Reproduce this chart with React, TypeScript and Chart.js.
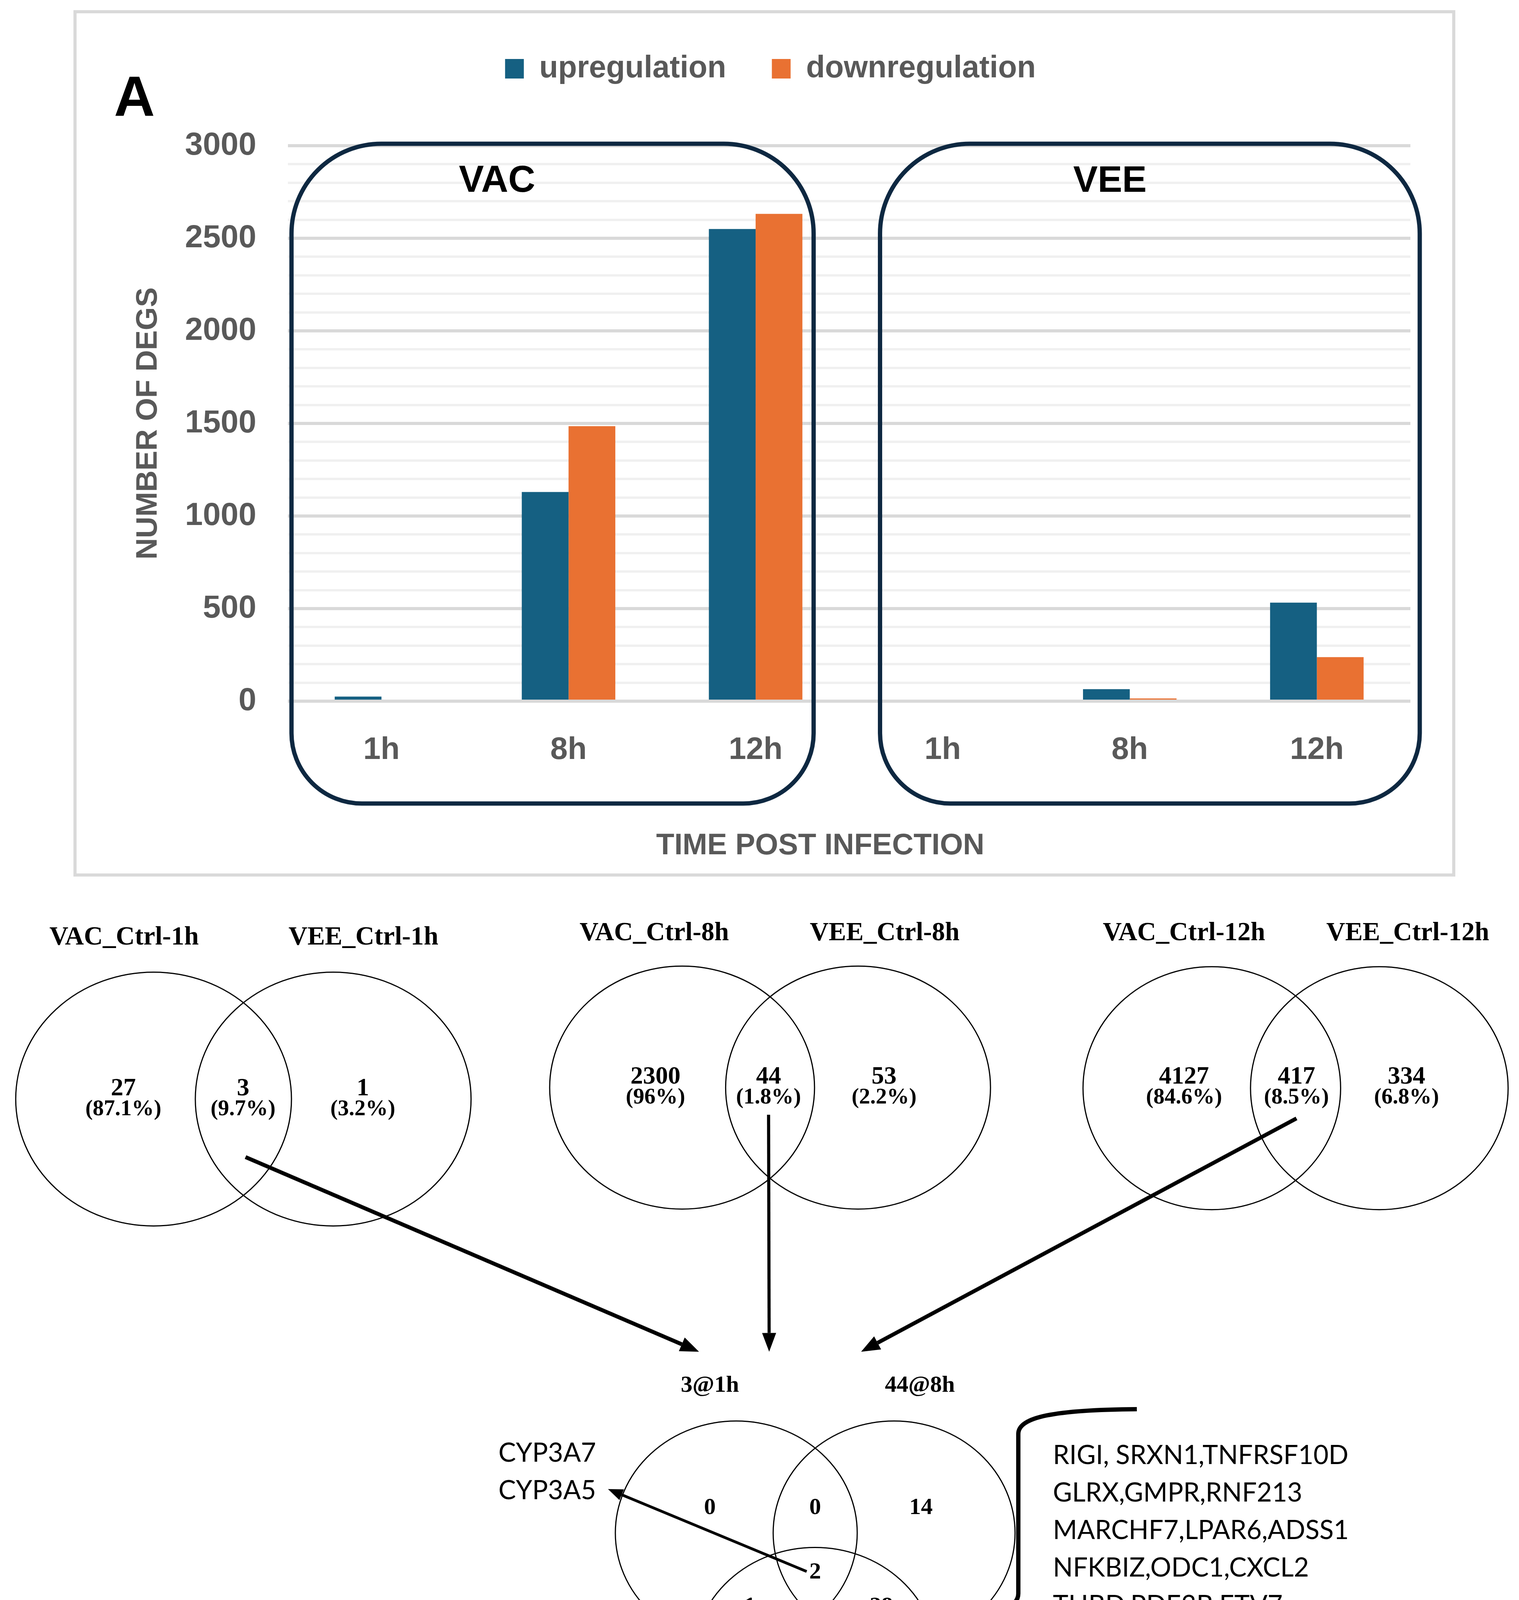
import React, { useEffect, useRef } from 'react';
import { Chart, registerables } from 'chart.js';

Chart.register(...registerables);

// ---------------- Panel A data ----------------
const groups = ['VAC', 'VEE'];
const timePoints = ['1h', '8h', '12h'];
const categories = groups.flatMap(() => timePoints);
const upregulation = [25, 1130, 2550, 0, 65, 532];
const downregulation = [0, 1485, 2632, 0, 15, 238];
const seriesNames = ['upregulation', 'downregulation'];
const seriesColors = ['#156082', '#E97132'];
const yMax = 3000;
const yMajorStep = 500;
const yMinorStep = 100;

// ---------------- Panel B data ----------------
const vennTitles = [
  ['VAC_Ctrl-1h', 'VEE_Ctrl-1h'],
  ['VAC_Ctrl-8h', 'VEE_Ctrl-8h'],
  ['VAC_Ctrl-12h', 'VEE_Ctrl-12h'],
];
const vennCounts = [
  [27, 3, 1],
  [2300, 44, 53],
  [4127, 417, 334],
];
const vennPercents = [
  ['87.1', '9.7', '3.2'],
  ['96', '1.8', '2.2'],
  ['84.6', '8.5', '6.8'],
];
const overlapSetLabels = ['3@1h', '44@8h', '417@12h'];
// regions: only 1h, 1h∩8h, only 8h, all three, 1h∩12h, 8h∩12h, only 12h
const overlapRegionCounts = [0, 0, 14, 2, 1, 28, 386];
const genesAllThree = ['CYP3A7', 'CYP3A5'];
const genes1h12h = ['AKR1B10'];
const genes8h12h = [
  'RIGI, SRXN1,TNFRSF10D',
  'GLRX,GMPR,RNF213',
  'MARCHF7,LPAR6,ADSS1',
  'NFKBIZ,ODC1,CXCL2',
  'THBD,PDE3B,ETV7',
  'ARRDC3,MAP3K8,NMT2',
  'DUSP1,MSI2,PTBP2',
  'KCNAB2,CXCL1,LRRC37A3',
  'MMP7,CXCL3,ANGPTL4',
  'HTR7',
];
const panelBLabel = '(B)';

const SANS = '"Liberation Sans", Arial, sans-serif';
const SERIF = '"Liberation Serif", "Times New Roman", serif';
const GENE_FONT = 'Lato, "Open Sans", sans-serif';
const GREY = '#595959';

// ---------------- Panel A plugin (frame, group boxes, letter) ----------------
const panelAPlugin = {
  id: 'panelA',
  afterDatasetsDraw(chart: any) {
    const { ctx, scales, chartArea } = chart;
    const x = scales.x;
    const y = scales.y;
    const w = x.getPixelForValue(1) - x.getPixelForValue(0);
    const top = y.getPixelForValue(yMax) - 5;
    const bottom = chartArea.bottom + 262;
    const boxes = [
      { label: groups[0], l: x.getPixelForValue(0) - 0.481 * w, r: x.getPixelForValue(2) + 0.31 * w, lx: x.getPixelForValue(0) + 0.618 * w, size: 96 },
      { label: groups[1], l: x.getPixelForValue(3) - 0.335 * w, r: x.getPixelForValue(5) + 0.55 * w, lx: x.getPixelForValue(3) + 0.894 * w, size: 94 },
    ];
    ctx.save();
    ctx.strokeStyle = '#0E2841';
    ctx.lineWidth = 11;
    for (const b of boxes) {
      ctx.beginPath();
      (ctx as any).roundRect(b.l, top, b.r - b.l, bottom - top, [230, 230, 180, 180]);
      ctx.stroke();
      ctx.fillStyle = '#000';
      ctx.font = `bold ${b.size}px ${SANS}`;
      ctx.textAlign = 'center';
      ctx.textBaseline = 'middle';
      ctx.fillText(b.label, b.lx, top + 97);
    }
    ctx.restore();
  },
  afterDraw(chart: any) {
    const { ctx } = chart;
    ctx.save();
    ctx.strokeStyle = '#d9d9d9';
    ctx.lineWidth = 8;
    ctx.strokeRect(192, 30, 3721 - 192, 2240 - 30);
    ctx.fillStyle = '#000';
    ctx.font = `bold 145px ${SANS}`;
    ctx.textAlign = 'center';
    ctx.textBaseline = 'middle';
    ctx.fillText('A', 344, 256);
    ctx.restore();
  },
};

// ---------------- Panel B plugin (Venn diagrams) ----------------
function drawArrow(ctx: CanvasRenderingContext2D, x1: number, y1: number, x2: number, y2: number, lw: number, hl: number, hw: number) {
  const a = Math.atan2(y2 - y1, x2 - x1);
  const bx = x2 - hl * Math.cos(a);
  const by = y2 - hl * Math.sin(a);
  ctx.lineWidth = lw;
  ctx.beginPath();
  ctx.moveTo(x1, y1);
  ctx.lineTo(bx, by);
  ctx.stroke();
  ctx.beginPath();
  ctx.moveTo(x2, y2);
  ctx.lineTo(bx + hw * Math.sin(a), by - hw * Math.cos(a));
  ctx.lineTo(bx - hw * Math.sin(a), by + hw * Math.cos(a));
  ctx.closePath();
  ctx.fill();
}

const vennPlugin = {
  id: 'venn',
  afterDraw(chart: any) {
    const { ctx, scales } = chart;
    const X = (v: number) => scales.x.getPixelForValue(v);
    const Y = (v: number) => scales.y.getPixelForValue(v);
    const RX = (r: number) => X(r) - X(0);
    const RY = (r: number) => Y(733.35 + r) - Y(733.35);
    ctx.save();
    ctx.strokeStyle = '#000';
    ctx.fillStyle = '#000';
    ctx.textAlign = 'center';
    ctx.textBaseline = 'middle';

    const ellipse = (cx: number, cy: number, rx: number, ry: number) => {
      ctx.lineWidth = 3;
      ctx.beginPath();
      ctx.ellipse(X(cx), Y(cy), RX(rx), RY(ry), 0, 0, Math.PI * 2);
      ctx.stroke();
    };
    const text = (s: string, x: number, y: number, font: string, align: CanvasTextAlign = 'center') => {
      ctx.font = font;
      ctx.textAlign = align;
      ctx.fillText(s, X(x), Y(y));
    };

    // two-set Venn diagrams
    const layouts = [
      { c: [127, 275.5], cy: 909, rx: 114, ry: 105, tx: [102.6, 300.5], ty: 775.5, nx: [102, 201, 300], ny: 900.5, py: 917.5 },
      { c: [564, 709.5], cy: 899.5, rx: 109.5, ry: 100.5, tx: [541, 731.5], ty: 772, nx: [542, 635.5, 731], ny: 891, py: 908 },
      { c: [1002, 1140.5], cy: 900, rx: 106.5, ry: 100.5, tx: [979, 1164], ty: 772, nx: [979, 1072, 1163], ny: 891, py: 908 },
    ];
    layouts.forEach((L, i) => {
      ellipse(L.c[0], L.cy, L.rx, L.ry);
      ellipse(L.c[1], L.cy, L.rx, L.ry);
      vennTitles[i].forEach((t, j) => text(t, L.tx[j], L.ty, `bold 67px ${SERIF}`));
      vennCounts[i].forEach((n, j) => {
        text(String(n), L.nx[j], L.ny, `bold 64px ${SERIF}`);
        text(`(${vennPercents[i][j]}%)`, L.nx[j], L.py, `bold 57px ${SERIF}`);
      });
    });

    // arrows to the three-set diagram
    drawArrow(ctx, X(203), Y(957), X(578), Y(1118), 10, 48, 19);
    drawArrow(ctx, X(635.5), Y(922), X(636), Y(1118), 8, 48, 18);
    drawArrow(ctx, X(1072), Y(925), X(712), Y(1118), 10, 48, 19);

    // three-set diagram
    ellipse(608.8, 1267.9, 100, 92.6);
    ellipse(739.3, 1267.9, 100, 92.6);
    ellipse(673.9, 1372.5, 100.5, 92.6);
    const setPos = [[587, 1146], [760.6, 1146], [674, 1494]];
    overlapSetLabels.forEach((s, i) => text(s, setPos[i][0], setPos[i][1], `bold 60px ${SERIF}`));
    const regionPos = [[587, 1247.4], [674, 1247.4], [761.5, 1247.4], [674, 1300.6], [620, 1329.2], [728.7, 1329.2], [674, 1390.7]];
    overlapRegionCounts.forEach((n, i) => text(String(n), regionPos[i][0], regionPos[i][1], `bold 60px ${SERIF}`));

    // gene annotations
    ctx.font = `100px ${GENE_FONT}`;
    const longest = genes8h12h.reduce((a, b) => (ctx.measureText(b).width > ctx.measureText(a).width ? b : a));
    const geneSize = (100 * 822) / ctx.measureText(longest).width;
    const geneFont = `${geneSize.toFixed(1)}px ${GENE_FONT}`;
    text(genesAllThree[0], 452.5, 1202, geneFont);
    text(genesAllThree[1], 452.5, 1233, geneFont);
    text(genes1h12h[0], 446, 1386, geneFont);
    genes8h12h.forEach((g, i) => text(g, 870.6, 1204 + 31 * i, geneFont, 'left'));

    drawArrow(ctx, X(667), Y(1299.8), X(502.7), Y(1231.6), 7, 38, 15);
    drawArrow(ctx, X(608), Y(1338), X(504), Y(1372), 7, 38, 15);

    // bracket
    ctx.lineWidth = 11;
    ctx.beginPath();
    ctx.moveTo(X(940), Y(1165.5));
    ctx.bezierCurveTo(X(872), Y(1166), X(842), Y(1172), X(842), Y(1186));
    ctx.lineTo(X(842), Y(1318));
    ctx.bezierCurveTo(X(842), Y(1331), X(822), Y(1334), X(800), Y(1335));
    ctx.lineTo(X(748), Y(1337));
    ctx.lineTo(X(800), Y(1339));
    ctx.bezierCurveTo(X(824), Y(1340), X(842), Y(1344), X(842), Y(1357));
    ctx.lineTo(X(842), Y(1492));
    ctx.bezierCurveTo(X(842), Y(1505), X(872), Y(1509.5), X(940), Y(1510));
    ctx.stroke();

    text(panelBLabel, 630.5, 1550, `bold 66px ${SERIF}`);
    ctx.restore();
  },
};

export default function App() {
  const refA = useRef<HTMLCanvasElement>(null);
  const refB = useRef<HTMLCanvasElement>(null);

  useEffect(() => {
    document.body.style.margin = '0';
    const chartA = new Chart(refA.current as HTMLCanvasElement, {
      type: 'bar',
      data: {
        labels: categories,
        datasets: [
          { label: seriesNames[0], data: upregulation, backgroundColor: seriesColors[0], borderWidth: 0, categoryPercentage: 0.5, barPercentage: 1 },
          { label: seriesNames[1], data: downregulation, backgroundColor: seriesColors[1], borderWidth: 0, categoryPercentage: 0.5, barPercentage: 1 },
        ],
      },
      options: {
        animation: false,
        responsive: false,
        devicePixelRatio: 1,
        events: [],
        layout: { padding: { left: 334, right: 278, top: 19.5, bottom: 58 } },
        plugins: {
          tooltip: { enabled: false },
          legend: {
            position: 'top',
            labels: {
              boxWidth: 48,
              boxHeight: 50,
              padding: 117,
              color: GREY,
              font: { family: SANS, size: 79, weight: 'bold' },
            },
          },
          subtitle: {
            display: true,
            text: '',
            weight: 500,
            padding: { top: 146.5, bottom: 0 },
            font: { size: 1, lineHeight: 1 },
          } as any,
        },
        scales: {
          x: {
            afterFit: (s: any) => { s.height = 417; },
            grid: { display: false, drawTicks: false },
            border: { display: false },
            ticks: { padding: 78, color: GREY, autoSkip: false, maxRotation: 0, font: { family: SANS, size: 80, weight: 'bold' } },
            title: {
              display: true,
              text: 'TIME POST INFECTION       ',
              color: GREY,
              padding: { top: 0, bottom: 0 },
              font: { family: SANS, size: 76, weight: 'bold' },
            },
          },
          y: {
            min: 0,
            max: yMax,
            afterFit: (s: any) => { s.width = 403; },
            border: { display: false },
            grid: {
              drawTicks: false,
              color: (c: any) => (c.tick && c.tick.value % yMajorStep === 0 ? '#d9d9d9' : '#f0f0f0'),
              lineWidth: (c: any) => (c.tick && c.tick.value % yMajorStep === 0 ? 8 : 6),
            },
            ticks: {
              stepSize: yMinorStep,
              autoSkip: false,
              padding: 81,
              color: GREY,
              font: { family: SANS, size: 82, weight: 'bold' },
              callback: (v: any) => (Number(v) % yMajorStep === 0 ? String(v) : ''),
            },
            title: {
              display: true,
              text: 'NUMBER OF DEGS',
              color: GREY,
              padding: 0,
              font: { family: SANS, size: 76, weight: 'bold' },
            },
          },
        },
      },
      plugins: [panelAPlugin],
    } as any);

    const chartB = new Chart(refB.current as HTMLCanvasElement, {
      type: 'scatter',
      data: { datasets: [{ data: [] }] },
      options: {
        animation: false,
        responsive: false,
        devicePixelRatio: 1,
        events: [],
        layout: { padding: 0 },
        plugins: { legend: { display: false }, tooltip: { enabled: false } },
        scales: {
          x: { type: 'linear', min: 0, max: 1256, display: false },
          y: { type: 'linear', min: 733.35, max: 1568, reverse: true, display: false },
        },
      },
      plugins: [vennPlugin],
    } as any);

    return () => {
      chartA.destroy();
      chartB.destroy();
    };
  }, []);

  return (
    <div style={{ width: 3888, height: 4853, background: '#ffffff', position: 'relative' }}>
      <canvas ref={refA} width={3888} height={2270} style={{ display: 'block', width: 3888, height: 2270 }} />
      <canvas ref={refB} width={3888} height={2583} style={{ display: 'block', width: 3888, height: 2583 }} />
    </div>
  );
}
